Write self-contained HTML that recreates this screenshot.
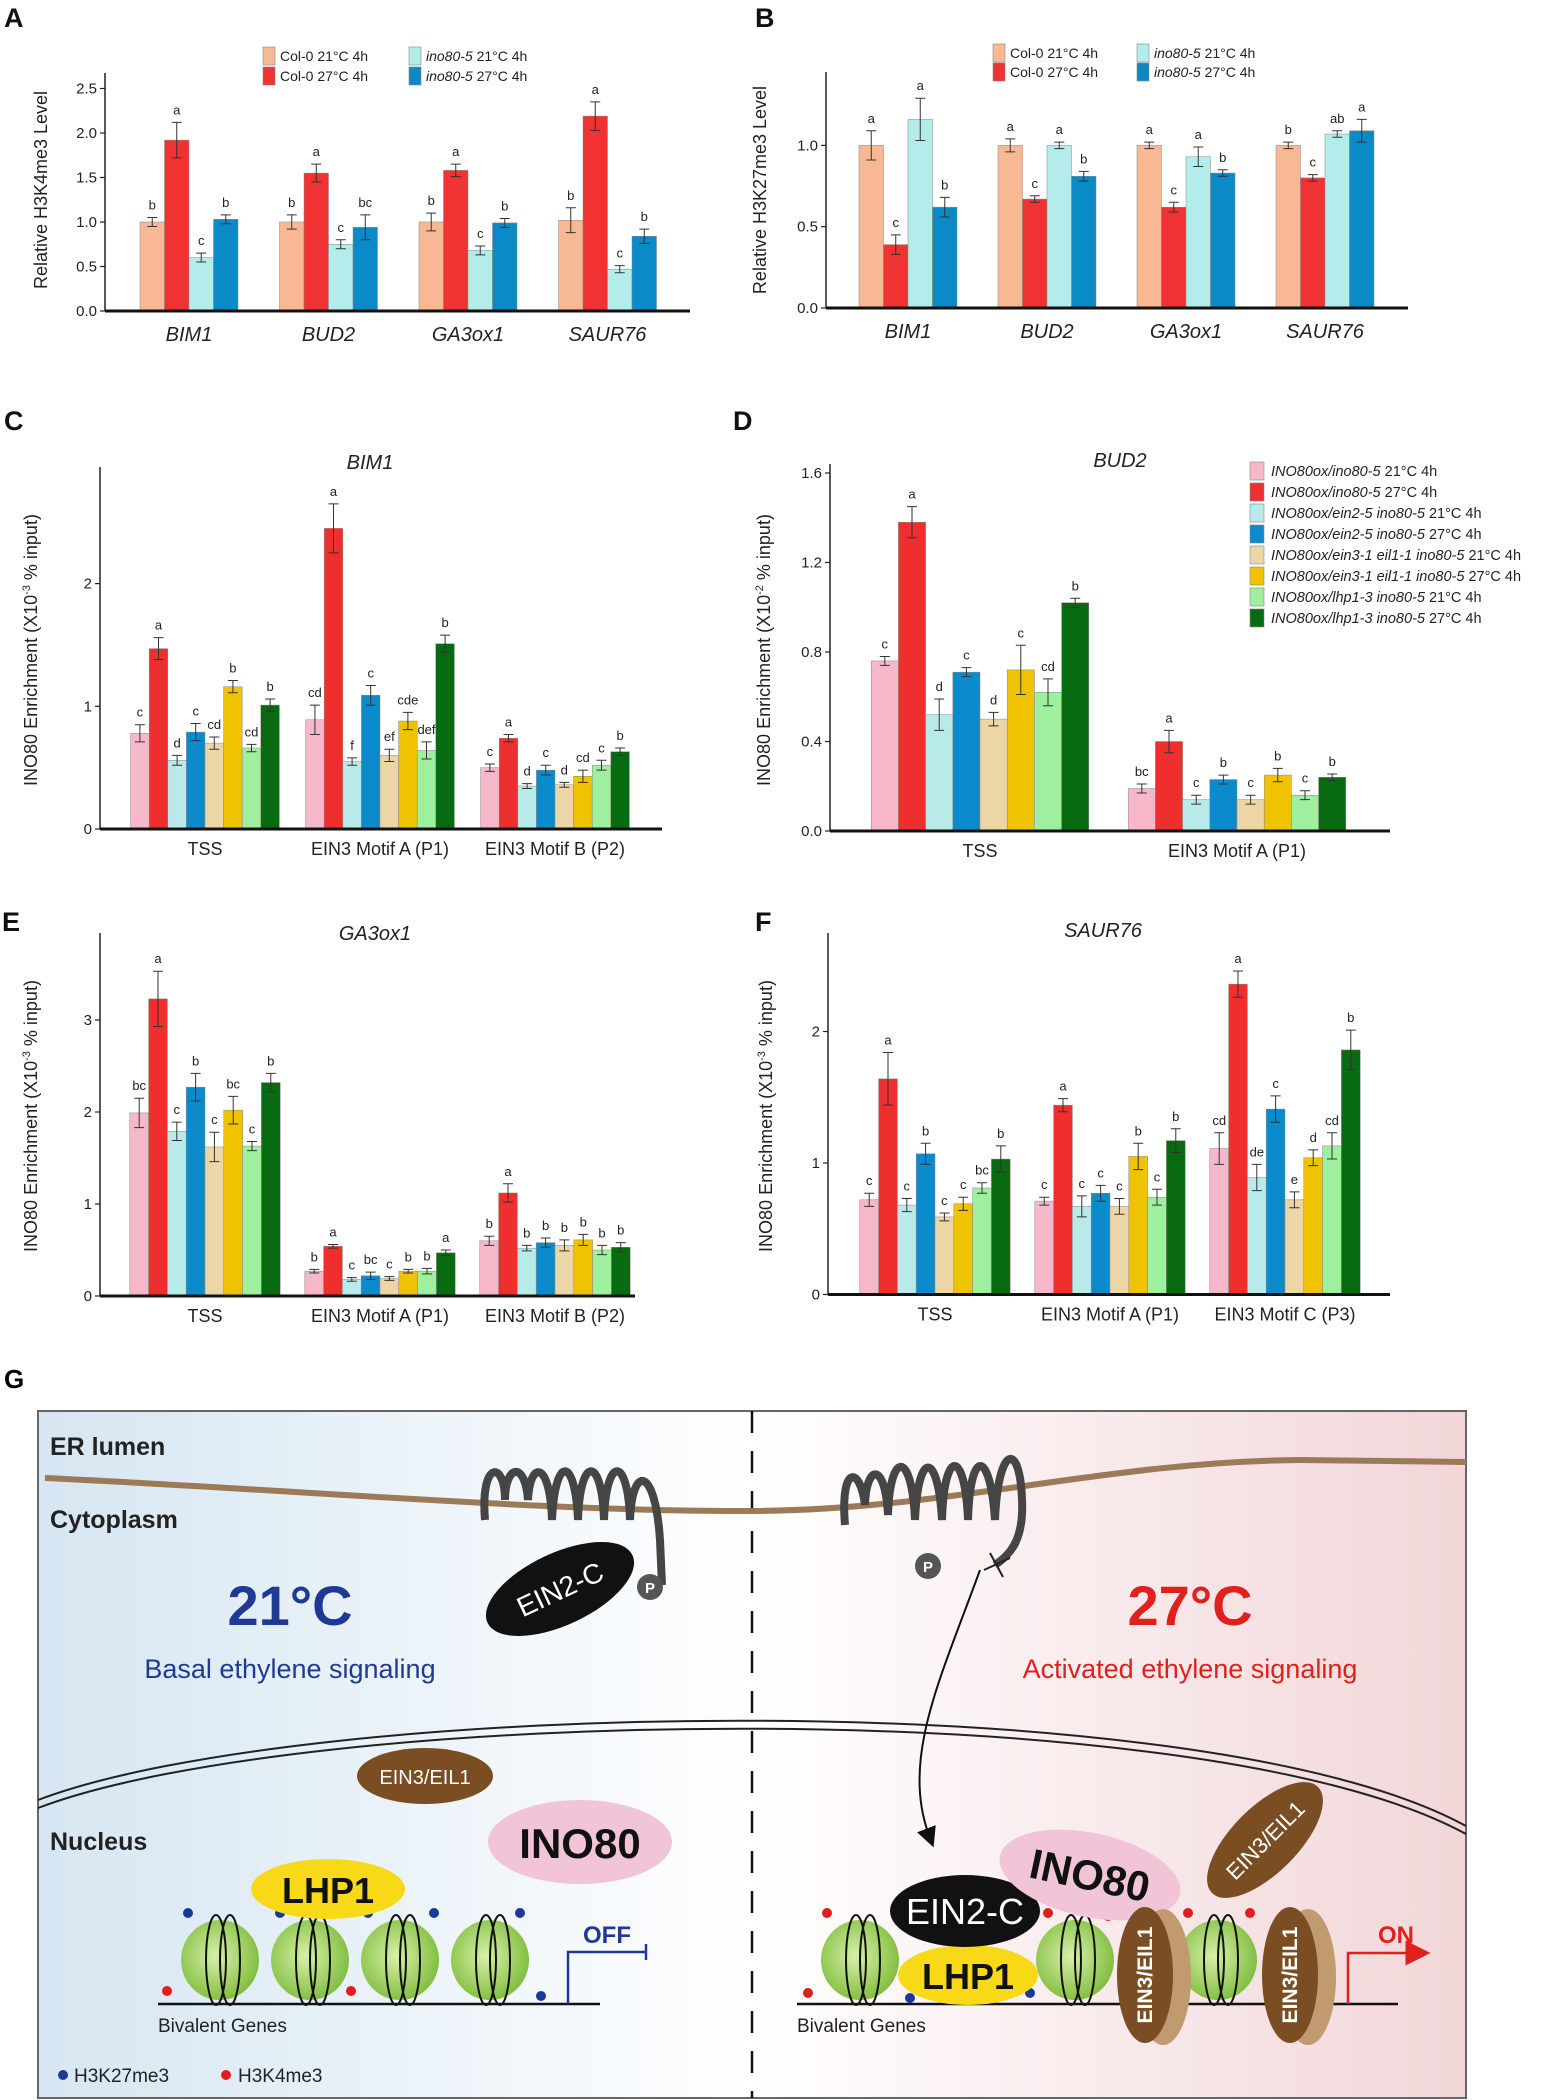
<!DOCTYPE html>
<html><head><meta charset="utf-8">
<style>
html,body{margin:0;padding:0;background:#fff;}
svg{display:block;font-family:"Liberation Sans",Arial,sans-serif;}
</style></head>
<body>
<svg id="fig" width="1554" height="2100" viewBox="0 0 1554 2100" xmlns="http://www.w3.org/2000/svg">
<defs>
<linearGradient id="bgL" x1="0" x2="1" y1="0" y2="0"><stop offset="0" stop-color="#d6e6f2"/><stop offset="1" stop-color="#ffffff"/></linearGradient>
<linearGradient id="bgR" x1="0" x2="1" y1="0" y2="0"><stop offset="0" stop-color="#ffffff"/><stop offset="1" stop-color="#f2d6d8"/></linearGradient>
<radialGradient id="nuc" cx="0.45" cy="0.45" r="0.6"><stop offset="0" stop-color="#d8f0a8"/><stop offset="1" stop-color="#7cbb3a"/></radialGradient>
<marker id="arr" markerWidth="10" markerHeight="10" refX="5" refY="5" orient="auto"><path d="M0,0 L10,5 L0,10 z" fill="#111"/></marker>
<marker id="arrR" markerWidth="10" markerHeight="10" refX="5" refY="5" orient="auto"><path d="M0,0 L10,5 L0,10 z" fill="#e0201c"/></marker>
</defs>
<g id="charts"></g>

<!-- Panel G -->
<g>
<text x="4" y="1388" font-size="26" font-weight="bold">G</text>
<rect x="38" y="1411" width="714" height="687" fill="url(#bgL)"/>
<rect x="752" y="1411" width="714" height="687" fill="url(#bgR)"/>
<rect x="38" y="1411" width="1428" height="687" fill="none" stroke="#666" stroke-width="2"/>
<line x1="752" y1="1411" x2="752" y2="2098" stroke="#111" stroke-width="2.5" stroke-dasharray="22,18"/>
<path d="M45,1478 C300,1490 550,1512 752,1511 C950,1510 1100,1462 1300,1460 L1466,1462" fill="none" stroke="#9c7a58" stroke-width="6"/>
<text x="50" y="1455" font-size="25" font-weight="bold" fill="#222">ER lumen</text>
<text x="50" y="1528" font-size="25" font-weight="bold" fill="#222">Cytoplasm</text>
<g fill="none" stroke="#454545" stroke-width="8">
<path d="M485,1520 C480,1460 505,1460 505,1500 C505,1465 525,1460 528,1500 C530,1460 550,1460 552,1520 C555,1455 575,1455 578,1520 C580,1455 602,1455 604,1520 C606,1455 628,1455 630,1520 C632,1465 655,1465 660,1540 L662,1585"/>
</g>
<g fill="none" stroke="#454545" stroke-width="8">
<path d="M845,1525 C840,1465 860,1465 865,1505 C866,1465 885,1460 888,1515 C890,1450 912,1450 915,1520 C918,1450 938,1450 942,1520 C944,1448 965,1448 968,1520 C970,1448 990,1448 995,1520 C998,1445 1020,1440 1022,1500 C1024,1540 1010,1555 995,1565"/>
</g>
<path d="M990,1553 L1003,1577 M984,1570 L1010,1558" stroke="#222" stroke-width="2"/>
<ellipse cx="560" cy="1589" rx="80" ry="36" fill="#111" transform="rotate(-25 560 1589)"/>
<text x="560" y="1599" font-size="28" fill="#fff" text-anchor="middle" transform="rotate(-25 560 1589)">EIN2-C</text>
<circle cx="650" cy="1587" r="13" fill="#555"/>
<text x="650" y="1593" font-size="15" font-weight="bold" fill="#fff" text-anchor="middle">P</text>
<circle cx="928" cy="1566" r="13" fill="#555"/>
<text x="928" y="1572" font-size="15" font-weight="bold" fill="#fff" text-anchor="middle">P</text>
<text x="290" y="1625" font-size="56" font-weight="bold" fill="#1f3a93" text-anchor="middle">21°C</text>
<text x="290" y="1678" font-size="27" fill="#1f3a93" text-anchor="middle">Basal ethylene signaling</text>
<text x="1190" y="1625" font-size="56" font-weight="bold" fill="#e0201c" text-anchor="middle">27°C</text>
<text x="1190" y="1678" font-size="27" fill="#e0201c" text-anchor="middle">Activated ethylene signaling</text>
<path d="M38,1800 C300,1700 1200,1680 1466,1826" fill="none" stroke="#222" stroke-width="2"/>
<path d="M38,1808 C300,1708 1200,1688 1466,1834" fill="none" stroke="#222" stroke-width="2"/>
<text x="50" y="1850" font-size="25" font-weight="bold" fill="#222">Nucleus</text>
<ellipse cx="425" cy="1776" rx="68" ry="28" fill="#7a4e22"/>
<text x="425" y="1784" font-size="20" fill="#fff" text-anchor="middle">EIN3/EIL1</text>
<ellipse cx="580" cy="1842" rx="92" ry="42" fill="#f2c4d8"/>
<text x="580" y="1858" font-size="42" font-weight="bold" fill="#111" text-anchor="middle">INO80</text>
<line x1="158" y1="2004" x2="600" y2="2004" stroke="#111" stroke-width="2.5"/>
<g>
<ellipse cx="220" cy="1960" rx="39" ry="40" fill="url(#nuc)"/><ellipse cx="310" cy="1960" rx="39" ry="40" fill="url(#nuc)"/><ellipse cx="400" cy="1960" rx="39" ry="40" fill="url(#nuc)"/><ellipse cx="490" cy="1960" rx="39" ry="40" fill="url(#nuc)"/>
<g fill="none" stroke="#111" stroke-width="2"><ellipse cx="216" cy="1960" rx="10" ry="45"/><ellipse cx="230" cy="1960" rx="10" ry="45"/><ellipse cx="306" cy="1960" rx="10" ry="45"/><ellipse cx="320" cy="1960" rx="10" ry="45"/><ellipse cx="396" cy="1960" rx="10" ry="45"/><ellipse cx="410" cy="1960" rx="10" ry="45"/><ellipse cx="486" cy="1960" rx="10" ry="45"/><ellipse cx="500" cy="1960" rx="10" ry="45"/></g>
<g fill="#1a3a9a"><circle cx="188" cy="1913" r="5"/><circle cx="280" cy="1913" r="5"/><circle cx="341" cy="1913" r="5"/><circle cx="368" cy="1913" r="5"/><circle cx="434" cy="1913" r="5"/><circle cx="520" cy="1913" r="5"/><circle cx="541" cy="1996" r="5"/></g>
<g fill="#e01e1e"><circle cx="167" cy="1991" r="5"/><circle cx="351" cy="1991" r="5"/></g>
</g>
<ellipse cx="328" cy="1889" rx="77" ry="30" fill="#f7d917"/>
<text x="328" y="1903" font-size="36" font-weight="bold" fill="#111" text-anchor="middle">LHP1</text>
<path d="M568,2004 L568,1952 L646,1952 M646,1944 L646,1960" fill="none" stroke="#1f3a93" stroke-width="2.5"/>
<text x="583" y="1943" font-size="24" font-weight="bold" fill="#1f3a93">OFF</text>
<text x="158" y="2032" font-size="19" fill="#222">Bivalent Genes</text>
<circle cx="63" cy="2075" r="5" fill="#1a3a9a"/>
<text x="74" y="2082" font-size="19" fill="#222">H3K27me3</text>
<circle cx="226" cy="2075" r="5" fill="#e01e1e"/>
<text x="238" y="2082" font-size="19" fill="#222">H3K4me3</text>
<path d="M980,1570 C940,1680 900,1760 930,1838" fill="none" stroke="#111" stroke-width="2" marker-end="url(#arr)"/>
<line x1="797" y1="2004" x2="1398" y2="2004" stroke="#111" stroke-width="2.5"/>
<g>
<ellipse cx="860" cy="1960" rx="39" ry="40" fill="url(#nuc)"/><ellipse cx="1075" cy="1960" rx="39" ry="40" fill="url(#nuc)"/><ellipse cx="1218" cy="1960" rx="39" ry="40" fill="url(#nuc)"/>
<g fill="none" stroke="#111" stroke-width="2"><ellipse cx="856" cy="1960" rx="10" ry="45"/><ellipse cx="870" cy="1960" rx="10" ry="45"/><ellipse cx="1071" cy="1960" rx="10" ry="45"/><ellipse cx="1085" cy="1960" rx="10" ry="45"/><ellipse cx="1214" cy="1960" rx="10" ry="45"/><ellipse cx="1228" cy="1960" rx="10" ry="45"/></g>
<g fill="#e01e1e"><circle cx="827" cy="1913" r="5"/><circle cx="1048" cy="1913" r="5"/><circle cx="1108" cy="1916" r="5"/><circle cx="1188" cy="1913" r="5"/><circle cx="1250" cy="1913" r="5"/><circle cx="808" cy="1993" r="5"/></g>
<g fill="#1a3a9a"><circle cx="910" cy="1998" r="5"/><circle cx="1030" cy="1993" r="5"/></g>
</g>
<ellipse cx="968" cy="1975" rx="70" ry="30" fill="#f7d917"/>
<text x="968" y="1989" font-size="36" font-weight="bold" fill="#111" text-anchor="middle">LHP1</text>
<ellipse cx="965" cy="1911" rx="75" ry="36" fill="#111"/>
<text x="965" y="1924" font-size="36" fill="#fff" text-anchor="middle">EIN2-C</text>
<ellipse cx="1090" cy="1875" rx="92" ry="42" fill="#f2c4d8" transform="rotate(12 1090 1875)"/>
<text x="1090" y="1890" font-size="42" font-weight="bold" fill="#111" text-anchor="middle" transform="rotate(12 1090 1875)">INO80</text>
<ellipse cx="1265" cy="1840" rx="75" ry="33" fill="#7a4e22" transform="rotate(-45 1265 1840)"/>
<text x="1265" y="1848" font-size="22" fill="#fff" text-anchor="middle" transform="rotate(-45 1265 1840)">EIN3/EIL1</text>
<ellipse cx="1163" cy="1977" rx="28" ry="68" fill="#c19a70"/>
<ellipse cx="1145" cy="1975" rx="28" ry="68" fill="#7a4e22"/>
<text x="1145" y="1975" font-size="21" font-weight="bold" fill="#fff" text-anchor="middle" transform="rotate(-90 1145 1975)" dy="7">EIN3/EIL1</text>
<ellipse cx="1308" cy="1977" rx="28" ry="68" fill="#c19a70"/>
<ellipse cx="1290" cy="1975" rx="28" ry="68" fill="#7a4e22"/>
<text x="1290" y="1975" font-size="21" font-weight="bold" fill="#fff" text-anchor="middle" transform="rotate(-90 1290 1975)" dy="7">EIN3/EIL1</text>
<path d="M1348,2004 L1348,1953 L1418,1953" fill="none" stroke="#e0201c" stroke-width="2.5" marker-end="url(#arrR)"/>
<text x="1378" y="1943" font-size="24" font-weight="bold" fill="#e0201c">ON</text>
<text x="797" y="2032" font-size="19" fill="#222">Bivalent Genes</text>
</g>
</svg>
<script>
// ---- Panel A / B data ----
var abGenes = ["BIM1","BUD2","GA3ox1","SAUR76"];
var aCol21 = [1.0, 1.0, 1.0, 1.02];
var aCol27 = [1.92, 1.55, 1.58, 2.19];
var aIno21 = [0.6, 0.75, 0.68, 0.47];
var aIno27 = [1.03, 0.94, 0.99, 0.84];
var aErr = [[0.05,0.2,0.05,0.05],[0.08,0.1,0.05,0.14],[0.1,0.07,0.05,0.05],[0.14,0.16,0.04,0.08]];
var aLetters = [["b","a","c","b"],["b","a","c","bc"],["b","a","c","b"],["b","a","c","b"]];
var aTicks = [0.0,0.5,1.0,1.5,2.0,2.5];
var bCol21 = [1.0, 1.0, 1.0, 1.0];
var bCol27 = [0.39, 0.67, 0.62, 0.8];
var bIno21 = [1.16, 1.0, 0.93, 1.07];
var bIno27 = [0.62, 0.81, 0.83, 1.09];
var bErr = [[0.09,0.06,0.13,0.06],[0.04,0.02,0.02,0.03],[0.02,0.03,0.06,0.02],[0.02,0.02,0.02,0.07]];
var bLetters = [["a","c","a","b"],["a","c","a","b"],["a","c","a","b"],["b","c","ab","a"]];
var bTicks = [0.0,0.5,1.0];
var abLegend = ["Col-0 21°C 4h","Col-0 27°C 4h","ino80-5 21°C 4h","ino80-5 27°C 4h"];
// ---- Panel C ----
var cCats = ["TSS","EIN3 Motif A (P1)","EIN3 Motif B (P2)"];
var cVals = [[0.78,1.47,0.56,0.79,0.70,1.16,0.66,1.01],[0.89,2.45,0.55,1.09,0.60,0.88,0.64,1.51],[0.50,0.74,0.35,0.48,0.36,0.43,0.52,0.63]];
var cErr = [[0.07,0.09,0.04,0.07,0.05,0.05,0.03,0.05],[0.12,0.2,0.03,0.08,0.05,0.07,0.07,0.07],[0.03,0.03,0.02,0.04,0.02,0.05,0.04,0.03]];
var cLetters = [["c","a","d","c","cd","b","cd","b"],["cd","a","f","c","ef","cde","def","b"],["c","a","d","c","d","cd","c","b"]];
var cTicks = [0,1,2];
// ---- Panel D ----
var dCats = ["TSS","EIN3 Motif A (P1)"];
var dVals = [[0.76,1.38,0.52,0.71,0.50,0.72,0.62,1.02],[0.19,0.40,0.14,0.23,0.14,0.25,0.16,0.24]];
var dErr = [[0.02,0.07,0.07,0.02,0.03,0.11,0.06,0.02],[0.02,0.05,0.02,0.02,0.02,0.03,0.02,0.015]];
var dLetters = [["c","a","d","c","d","c","cd","b"],["bc","a","c","b","c","b","c","b"]];
var dTicks = [0.0,0.4,0.8,1.2,1.6];
// ---- Panel E ----
var eCats = ["TSS","EIN3 Motif A (P1)","EIN3 Motif B (P2)"];
var eVals = [[1.99,3.23,1.79,2.27,1.62,2.02,1.63,2.32],[0.27,0.54,0.18,0.22,0.19,0.27,0.27,0.47],[0.60,1.12,0.52,0.58,0.55,0.61,0.50,0.53]];
var eErr = [[0.16,0.3,0.1,0.15,0.16,0.15,0.05,0.1],[0.02,0.02,0.02,0.04,0.02,0.02,0.03,0.03],[0.05,0.1,0.03,0.05,0.06,0.06,0.05,0.05]];
var eLetters = [["bc","a","c","b","c","bc","c","b"],["b","a","c","bc","c","b","b","a"],["b","a","b","b","b","b","b","b"]];
var eTicks = [0,1,2,3];
// ---- Panel F ----
var fCats = ["TSS","EIN3 Motif A (P1)","EIN3 Motif C (P3)"];
var fVals = [[0.72,1.64,0.68,1.07,0.59,0.69,0.81,1.03],[0.71,1.44,0.67,0.77,0.67,1.05,0.74,1.17],[1.11,2.36,0.89,1.41,0.72,1.04,1.13,1.86]];
var fErr = [[0.05,0.2,0.05,0.08,0.03,0.05,0.04,0.1],[0.03,0.05,0.08,0.06,0.06,0.1,0.06,0.09],[0.12,0.1,0.1,0.1,0.06,0.06,0.1,0.15]];
var fLetters = [["c","a","c","b","c","c","bc","b"],["c","a","c","c","c","b","c","b"],["cd","a","de","c","e","d","cd","b"]];
var fTicks = [0,1,2];
var ctLegendGeno = ["INO80ox/ino80-5","INO80ox/ino80-5","INO80ox/ein2-5 ino80-5","INO80ox/ein2-5 ino80-5","INO80ox/ein3-1 eil1-1 ino80-5","INO80ox/ein3-1 eil1-1 ino80-5","INO80ox/lhp1-3 ino80-5","INO80ox/lhp1-3 ino80-5"];
var ctLegendCond = ["21°C 4h","27°C 4h","21°C 4h","27°C 4h","21°C 4h","27°C 4h","21°C 4h","27°C 4h"];

var abColors = ["#f8b894","#f03232","#b4ecec","#0a8ac6"];
var cfColors = ["#f6b8c8","#ef2e2e","#b8eaea","#0b8bcb","#ecd6a6","#efc300","#9eef9e","#086b12"];
var NS = "http://www.w3.org/2000/svg";
var root = document.getElementById("charts");
function el(tag, attrs, parent){ var e=document.createElementNS(NS,tag); for(var k in attrs) e.setAttribute(k,attrs[k]); (parent||root).appendChild(e); return e; }

function chart(o){
  var g = el("g",{});
  
  
  function y(v){ return o.y0 - (v/o.tickStep)*o.tickPx; }
  var yTop = o.yTopPx;
  var ax = el("line",{x1:o.x0,y1:yTop,x2:o.x0,y2:o.y0,stroke:"#222","stroke-width":1.5},g);
  
  
  o.ticks.forEach(function(t){
    var ty=y(t);
    el("line",{x1:o.x0-5,y1:ty,x2:o.x0,y2:ty,stroke:"#222","stroke-width":1.2},g);
    var tl = el("text",{x:o.x0-8,y:ty+5,"font-size":15,"text-anchor":"end",fill:"#222"},g);
    tl.textContent = o.tickFmt ? t.toFixed(o.tickFmt) : String(t);
    
    
  });
  var yt = el("text",{x:0,y:0,"font-size":18,"text-anchor":"middle",fill:"#222",transform:"translate("+o.ytX+","+o.ytY+") rotate(-90)"},g);
  yt.innerHTML = o.yTitle;
  
  
  o.cats.forEach(function(cat,ci){
    var cx = o.first + ci*o.step;
    var vals = o.series[ci];
    for(var bi=0; bi<vals.length; bi++){
      var v=vals[bi], bx = cx + (bi - vals.length/2)*o.bw;
      var r = el("rect",{x:bx,y:y(v),width:o.bw,height:o.y0-y(v),fill:o.colors[bi],stroke:"#888","stroke-width":0.5},g);
      
      
      var e=o.err[ci][bi], mx=bx+o.bw/2;
      var eb = el("path",{d:"M"+mx+","+y(v+e)+"V"+y(v-e)+"M"+(mx-5)+","+y(v+e)+"H"+(mx+5)+"M"+(mx-5)+","+y(v-e)+"H"+(mx+5),stroke:"#333","stroke-width":1,fill:"none"},g);
      
      
      var lt = el("text",{x:mx,y:y(v+e)-8,"font-size":13,"text-anchor":"middle",fill:"#222"},g);
      lt.textContent = o.letters[ci][bi];
      
      
    }
    var cl = el("text",{x:cx,y:o.y0+(o.italicCats?30:26),"font-size":o.italicCats?20:18,"text-anchor":"middle",fill:"#222","font-style":o.italicCats?"italic":"normal"},g);
    cl.textContent = cat;
    
    
  });
  var xa = el("line",{x1:o.x0,y1:o.y0,x2:o.x1,y2:o.y0,stroke:"#111","stroke-width":3},g);
  
  
  if(o.title){
    var tt = el("text",{x:o.titleX,y:o.titleY,"font-size":20,"font-style":"italic","text-anchor":"middle",fill:"#222"},g);
    tt.textContent = o.title;
    
    
  }
  var pl = el("text",{x:o.labelX,y:o.labelY,"font-size":27,"font-weight":"bold",fill:"#111"},g);
  pl.textContent = o.label;
  
  
  return g;
}
function transpose(arrs){ return arrs[0].map(function(_,i){ return arrs.map(function(a){return a[i];}); }); }

chart({name:"chart-a-h3k4me3",label:"A",labelX:4,labelY:27,x0:105,x1:690,y0:311,tickStep:0.5,tickPx:44.5,yTopPx:73,ticks:aTicks,tickFmt:1,
  yTitle:"Relative H3K4me3 Level",ytX:47,ytY:190,cats:abGenes,series:transpose([aCol21,aCol27,aIno21,aIno27]),err:aErr,letters:aLetters,colors:abColors,first:189,step:139.5,bw:24.5,italicCats:true});
chart({name:"chart-b-h3k27me3",label:"B",labelX:755,labelY:27,x0:826,x1:1408,y0:308,tickStep:0.5,tickPx:81.3,yTopPx:72,ticks:bTicks,tickFmt:1,
  yTitle:"Relative H3K27me3 Level",ytX:766,ytY:190,cats:abGenes,series:transpose([bCol21,bCol27,bIno21,bIno27]),err:bErr,letters:bLetters,colors:abColors,first:908,step:139,bw:24.5,italicCats:true});
var unitsL = "INO80 Enrichment (X10<tspan dy='-7' font-size='11'>-3</tspan><tspan dy='7'> % input)</tspan>";
var unitsD = "INO80 Enrichment (X10<tspan dy='-7' font-size='11'>-2</tspan><tspan dy='7'> % input)</tspan>";
chart({name:"chart-c-bim1",label:"C",labelX:4,labelY:430,x0:100,x1:662,y0:829,tickStep:1,tickPx:122.7,yTopPx:467,ticks:cTicks,
  yTitle:unitsL,ytX:37,ytY:650,cats:cCats,series:cVals,err:cErr,letters:cLetters,colors:cfColors,first:205,step:175,bw:18.6,title:"BIM1",titleX:370,titleY:469});
chart({name:"chart-d-bud2",label:"D",labelX:733,labelY:430,x0:830,x1:1390,y0:831,tickStep:0.4,tickPx:89.5,yTopPx:464,ticks:dTicks,tickFmt:1,
  yTitle:unitsD,ytX:770,ytY:650,cats:dCats,series:dVals,err:dErr,letters:dLetters,colors:cfColors,first:980,step:257,bw:27.2,title:"BUD2",titleX:1120,titleY:467});
chart({name:"chart-e-ga3ox1",label:"E",labelX:2,labelY:931,x0:100,x1:635,y0:1296,tickStep:1,tickPx:92,yTopPx:933,ticks:eTicks,
  yTitle:unitsL,ytX:37,ytY:1116,cats:eCats,series:eVals,err:eErr,letters:eLetters,colors:cfColors,first:205,step:175,bw:18.8,title:"GA3ox1",titleX:375,titleY:940});
chart({name:"chart-f-saur76",label:"F",labelX:755,labelY:931,x0:828,x1:1390,y0:1294.5,tickStep:1,tickPx:131.5,yTopPx:933,ticks:fTicks,
  yTitle:unitsL,ytX:772,ytY:1116,cats:fCats,series:fVals,err:fErr,letters:fLetters,colors:cfColors,first:935,step:175,bw:18.8,title:"SAUR76",titleX:1103,titleY:937});

function abLeg(x1,x2,ys){
  abLegend.forEach(function(t,i){
    var lx = i<2?x1:x2, ly = ys[i%2];
    var s = el("rect",{x:lx,y:ly-9,width:12,height:18,fill:abColors[i],stroke:"#888","stroke-width":0.6});
    
    
    var tx = el("text",{x:lx+17,y:ly+5,"font-size":14,fill:"#222"});
    var parts = t.split(" ");
    tx.innerHTML = (i<2? parts[0] : "<tspan font-style='italic'>"+parts[0]+"</tspan>")+" "+parts[1]+" "+parts[2];
    
    
  });
}
abLeg(263,409,[56,76]);
abLeg(993,1137,[53,72]);
ctLegendGeno.forEach(function(gn,i){
  var ly = 471 + i*21;
  var s = el("rect",{x:1250,y:ly-9,width:14,height:18,fill:cfColors[i],stroke:"#888","stroke-width":0.6});
  
  
  var tx = el("text",{x:1271,y:ly+5,"font-size":14.5,fill:"#222"});
  tx.innerHTML = "<tspan font-style='italic'>"+gn+"</tspan> "+ctLegendCond[i];
  
  
});
</script>
</body></html>
